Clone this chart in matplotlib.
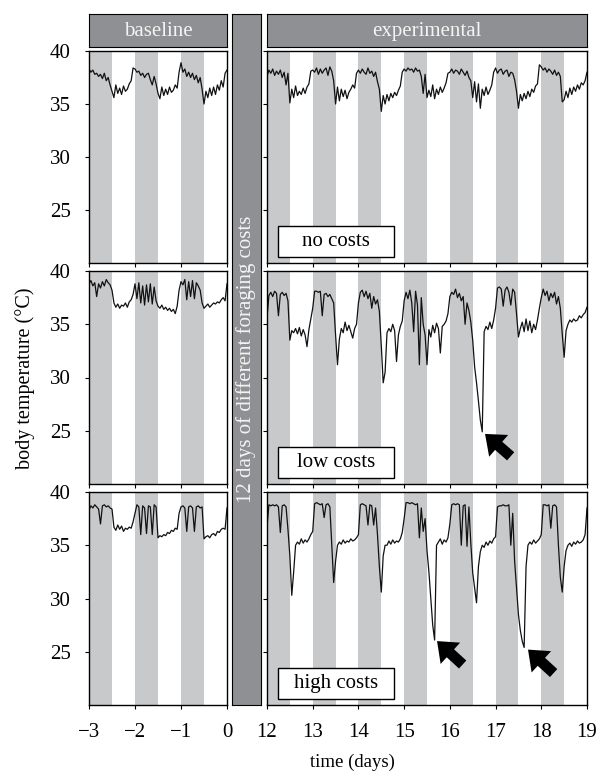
import numpy as np
import matplotlib
matplotlib.use('Agg')
import matplotlib.pyplot as plt
from matplotlib.patches import Rectangle, FancyArrowPatch

plt.rcParams['font.family'] = ['Liberation Serif', 'DejaVu Serif']
plt.rcParams['axes.unicode_minus'] = True

W, H = 598, 773

# body temperature, hourly readings (deg C)
base_none = [38.3, 38.0, 38.2, 37.8, 37.9, 37.6, 37.8, 37.4, 37.9, 37.2, 37.5, 36.8, 36.2, 35.6, 36.8, 36.0, 36.5, 35.9, 36.7, 36.2, 36.4, 36.9, 37.2, 38.4,
             38.3, 38.0, 38.1, 37.7, 37.9, 37.5, 37.8, 37.9, 37.3, 36.8, 37.6, 36.9, 36.0, 35.5, 36.6, 35.8, 36.4, 35.9, 36.6, 36.1, 36.3, 36.8, 36.5, 38.0,
             38.9, 38.0, 38.3, 37.6, 38.0, 37.5, 37.9, 37.3, 37.7, 37.0, 37.5, 36.4, 35.0, 36.2, 35.6, 36.5, 35.8, 36.6, 35.9, 36.8, 36.3, 37.2, 36.6, 37.9,
             38.2]
exp_none = [37.6, 38.2, 37.9, 38.3, 37.7, 38.1, 37.8, 38.2, 37.5, 38.0, 36.8, 37.9, 35.1, 36.4, 35.6, 36.7, 35.8, 36.2, 35.9, 36.5, 36.0, 36.6, 36.9, 38.1,
            38.2, 38.0, 38.4, 37.8, 38.3, 37.9, 38.2, 38.4, 37.7, 38.5, 38.1, 37.2, 35.0, 36.6, 35.3, 36.4, 35.7, 36.3, 35.5, 36.1, 36.4, 36.8, 36.5, 37.9,
            38.2, 37.9, 38.3, 38.0, 37.8, 38.4, 37.9, 38.1, 37.6, 38.0, 37.1, 36.4, 34.3, 35.8, 35.0, 35.9, 35.3, 36.0, 35.6, 36.1, 35.8, 36.3, 36.7, 38.0,
            38.3, 38.1, 38.4, 38.2, 38.3, 38.0, 38.4, 38.1, 38.2, 37.6, 36.0, 37.8, 35.6, 36.3, 35.7, 36.8, 35.5, 36.4, 35.9, 36.6, 36.1, 36.5, 37.0, 37.9,
            38.0, 38.3, 37.9, 38.2, 38.1, 37.8, 38.3, 38.0, 37.7, 38.1, 37.5, 37.2, 35.6, 37.1, 35.2, 36.9, 34.6, 36.4, 35.8, 36.6, 35.9, 36.3, 36.8, 38.0,
            38.4, 37.9, 38.2, 38.3, 37.8, 38.1, 38.2, 37.6, 38.0, 37.9, 37.3, 36.2, 34.6, 35.9, 35.3, 36.0, 35.5, 36.2, 35.7, 36.4, 36.1, 36.7, 36.9, 38.7,
            38.5, 38.2, 38.4, 38.0, 38.3, 38.1, 37.8, 38.2, 37.7, 38.0, 37.6, 35.2, 35.4, 36.2, 35.6, 36.5, 35.9, 36.6, 36.2, 36.8, 36.4, 37.0, 36.8, 37.2,
            38.0]

base_low = [38.8, 39.1, 38.6, 38.9, 37.6, 38.8, 38.4, 39.0, 38.6, 39.2, 38.9, 38.7, 38.2, 37.0, 36.6, 36.9, 36.5, 36.8, 36.7, 37.0, 36.6, 37.1, 37.3, 37.8,
            38.8, 37.4, 38.9, 37.0, 38.6, 36.8, 38.7, 37.1, 38.8, 36.9, 38.5, 37.2, 36.7, 36.5, 36.8, 36.4, 36.6, 36.3, 36.5, 36.2, 36.4, 36.0, 36.7, 38.2,
            39.0, 38.7, 39.2, 37.3, 39.0, 37.6, 39.1, 37.4, 38.9, 38.6, 38.2, 37.0, 36.5, 36.7, 36.9, 36.6, 36.8, 37.0, 36.9, 37.1, 37.0, 37.3, 37.5, 37.2,
            38.8]
exp_low = [35.6, 37.7, 38.0, 37.6, 38.1, 37.9, 35.8, 37.8, 38.0, 37.7, 37.9, 37.2, 33.5, 34.4, 34.2, 34.6, 34.1, 34.7, 33.9, 34.5, 34.0, 32.9, 34.5, 35.5,
           36.5, 38.1, 38.1, 38.0, 38.1, 35.8, 37.8, 37.9, 37.6, 37.8, 37.4, 37.0, 34.0, 31.2, 33.6, 34.6, 34.2, 35.2, 34.4, 34.9, 34.3, 33.7, 34.6, 35.0,
           37.0, 38.0, 38.2, 37.6, 38.1, 37.4, 37.9, 36.5, 37.6, 36.9, 37.3, 36.2, 33.0, 29.5, 30.5, 34.2, 34.6, 34.3, 35.0, 34.4, 31.5, 34.0, 34.8, 35.3,
           37.2, 38.0, 37.4, 38.2, 37.0, 34.3, 38.1, 36.8, 31.2, 37.5, 35.0, 34.0, 31.2, 34.5, 33.8, 34.9, 34.2, 35.1, 34.6, 32.3, 34.8, 35.0, 35.3, 36.0,
           37.6, 38.0, 37.8, 38.3, 37.5, 37.9, 37.2, 37.6, 35.0, 37.0, 36.3, 35.2, 33.5, 31.0, 29.5, 27.8, 26.0, 24.9, 34.3, 34.8, 34.5, 35.2, 34.6, 35.4,
           36.5, 38.4, 38.5, 38.3, 36.7, 38.2, 38.5, 38.0, 36.8, 38.3, 38.0, 36.0, 33.8, 34.6, 35.2, 34.3, 35.5, 34.4, 35.3, 34.2, 35.0, 34.5, 35.4, 36.5,
           37.5, 38.3, 37.7, 38.1, 37.2, 37.9, 37.5, 38.0, 36.9, 37.6, 36.5, 34.1, 31.9, 34.4, 35.0, 35.4, 35.2, 35.5, 35.3, 35.4, 35.8, 35.6, 35.9, 36.1,
           36.6]

base_high = [38.3, 38.7, 38.5, 38.8, 38.6, 38.4, 37.0, 38.7, 38.8, 38.6, 38.7, 38.5, 38.4, 36.7, 36.4, 36.9, 36.5, 36.8, 36.3, 36.6, 36.5, 36.7, 36.6, 37.2,
             38.0, 38.8, 38.6, 36.0, 38.7, 38.5, 36.1, 38.7, 38.6, 36.0, 38.8, 38.6, 35.7, 35.9, 35.8, 36.0, 35.9, 36.2, 36.1, 36.4, 36.3, 36.6, 36.5, 38.0,
             38.6, 38.7, 38.5, 36.3, 38.6, 38.7, 38.5, 36.3, 38.6, 38.7, 38.5, 38.6, 35.6, 35.8, 35.9, 35.7, 36.0, 36.1, 35.9, 36.3, 36.2, 36.5, 36.6, 36.5,
             38.5]
exp_high = [36.7, 38.8, 38.7, 38.8, 38.7, 38.8, 38.6, 36.2, 38.7, 38.8, 38.6, 36.5, 34.0, 30.3, 32.5, 35.0, 35.3, 35.1, 35.6, 35.2, 35.5, 35.3, 35.6, 36.0,
            36.3, 38.9, 39.0, 38.9, 38.8, 38.9, 37.6, 38.8, 38.9, 38.6, 35.0, 31.5, 33.5, 35.0, 35.3, 35.1, 35.5, 35.2, 35.4, 35.3, 35.6, 35.4, 35.5, 35.7,
            36.0, 38.8, 38.9, 38.8, 38.7, 36.9, 38.8, 38.7, 36.9, 38.5, 36.0, 33.0, 30.6, 34.0, 35.0, 35.0, 35.4, 35.1, 35.5, 35.2, 35.4, 35.3, 35.6, 36.2,
            37.5, 39.0, 39.0, 38.9, 39.0, 38.9, 38.8, 38.9, 35.7, 38.5, 36.3, 37.5, 34.5, 32.5, 30.0, 27.5, 26.1, 35.0, 35.3, 35.6, 35.1, 35.5, 35.3, 35.7,
            37.0, 38.8, 38.9, 38.8, 38.9, 38.8, 35.0, 38.7, 38.8, 34.9, 38.6, 35.2, 32.4, 31.0, 29.6, 33.0, 34.4, 35.0, 34.8, 35.3, 35.0, 35.4, 35.2, 35.6,
            35.8, 38.6, 38.7, 38.7, 38.8, 38.7, 38.7, 38.8, 35.0, 38.0, 33.5, 31.0, 28.5, 27.0, 26.0, 25.4, 33.0, 35.0, 35.3, 35.1, 35.5, 35.2, 35.4, 35.6,
            36.0, 38.8, 38.8, 38.7, 38.8, 36.6, 38.7, 38.8, 38.6, 35.0, 32.0, 30.6, 33.0, 34.5, 35.0, 35.2, 34.9, 35.3, 35.1, 35.4, 35.2, 35.3, 35.5, 36.0,
            38.5]

t_base = -3 + np.arange(len(base_none)) / 24.0
t_exp = 12 + np.arange(len(exp_none)) / 24.0

base_days = [-3, -2, -1]
exp_days = [12, 13, 14, 15, 16, 17, 18]
conditions = ['no costs', 'low costs', 'high costs']
base_series = [base_none, base_low, base_high]
exp_series = [exp_none, exp_low, exp_high]
# arrows pointing at the deep drops: (tail x, tail y, tip x, tip y)
arrows = [[], [(17.33, 22.6, 16.77, 24.7)],
          [(16.28, 23.8, 15.72, 26.0), (18.27, 23.0, 17.71, 25.2)]]

BAND = '#c8c9cb'
HEAD = '#8f9093'
FS = 15


def rect(x0, y0, x1, y1):
    return [x0 / W, 1 - y1 / H, (x1 - x0) / W, (y1 - y0) / H]


fig = plt.figure(figsize=(W / 100, H / 100), dpi=100)

rows = [(51, 263), (271, 484), (492, 705)]

for r, (y0, y1) in enumerate(rows):
    axl = fig.add_axes(rect(89, y0, 227, y1))
    axr = fig.add_axes(rect(267, y0, 587, y1))
    for ax, days, t, vals, xlim in [(axl, base_days, t_base, base_series[r], (-3, 0)),
                                    (axr, exp_days, t_exp, exp_series[r], (12, 19))]:
        for d in days:
            ax.axvspan(d, d + 0.5, color=BAND, lw=0, zorder=0)
        ax.plot(t, vals, color='#111111', lw=0.9, zorder=2)
        ax.set_xlim(*xlim)
        ax.set_ylim(20, 40)
        ax.set_yticks([25, 30, 35, 40])
        ax.set_xticks(range(xlim[0], xlim[1] + 1))
        ax.tick_params(direction='out', length=3, width=0.8, labelsize=FS, pad=10)
        for s in ax.spines.values():
            s.set_linewidth(1.0)
        if r < 2:
            ax.set_xticklabels([])
    axr.set_yticklabels([])

    box = Rectangle((0.034, 0.028), 0.3625, 0.146, transform=axr.transAxes,
                    facecolor='white', edgecolor='black', lw=1.0, zorder=3)
    axr.add_patch(box)
    axr.text(0.034 + 0.3625 / 2, 0.028 + 0.146 / 2, conditions[r], transform=axr.transAxes,
             ha='center', va='center', fontsize=FS, zorder=4)

    for (x0, ya, x1, yb) in arrows[r]:
        ar = FancyArrowPatch((x0, ya), (x1, yb),
                             arrowstyle='simple,head_width=1.6,head_length=1.0,tail_width=0.6',
                             mutation_scale=13, color='black', lw=0, shrinkA=0, shrinkB=0, zorder=5)
        axr.add_patch(ar)

# header boxes and middle bar
for (x0, x1, label) in [(89, 227, 'baseline'), (267, 587, 'experimental')]:
    hx = fig.add_axes(rect(x0, 14, x1, 47))
    hx.set_facecolor(HEAD)
    hx.set_xticks([])
    hx.set_yticks([])
    hx.text(0.5, 0.48, label, ha='center', va='center', color='#f4f4f4', fontsize=FS,
            transform=hx.transAxes)

mx = fig.add_axes(rect(232, 14, 261, 705))
mx.set_facecolor(HEAD)
mx.set_xticks([])
mx.set_yticks([])
mx.text(0.5, 0.5 + (360 - 359.5) / 691, '12 days of different foraging costs', rotation=90,
        ha='center', va='center', color='#f4f4f4', fontsize=FS, transform=mx.transAxes)

fig.text(25 / W, 1 - 378 / H, 'body temperature (°C)', rotation=90, ha='center', va='center',
         fontsize=14.5)
fig.text(352 / W, 1 - 762 / H, 'time (days)', ha='center', va='center', fontsize=13.5)

fig.savefig('out.png', dpi=100)
